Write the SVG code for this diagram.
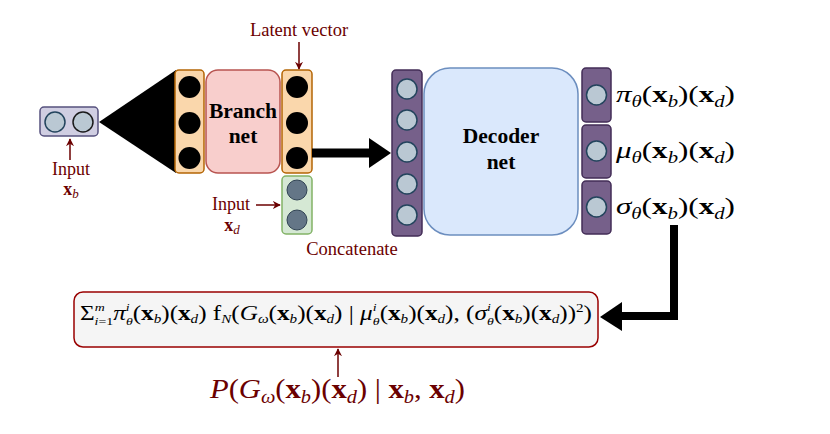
<svg xmlns="http://www.w3.org/2000/svg" width="830" height="434" viewBox="0 0 830 434">
<style>
.lbl{font-family:"Liberation Serif","Times New Roman",serif;fill:#6b0000}
.math{font-family:"Liberation Serif","Times New Roman",serif;fill:#000}
.it{font-style:italic}
.bf{font-weight:bold}
.bold{font-family:"Liberation Serif","Times New Roman",serif;font-weight:bold;fill:#000}
.orange{fill:#fad7ac;stroke:#b46504;stroke-width:1.5}
.blk{fill:#000}
.purple{fill:#76608a;stroke:#432d57;stroke-width:1.5}
.pc{fill:#bac8d3;stroke:#23445d;stroke-width:1.5}
.gc{fill:#647687;stroke:#314354;stroke-width:1}
.red{stroke:#6b0000;stroke-width:1.5;fill:none}
</style>
<defs>
<marker id="ah" viewBox="0 0 10 10" refX="9" refY="5" markerWidth="8" markerHeight="8" orient="auto" markerUnits="userSpaceOnUse">
<path d="M0,0 L10,5 L0,10 L3,5 Z" fill="#6b0000"/>
</marker>
</defs>
<rect width="830" height="434" fill="#fff"/>

<g id="input-xb">
<rect x="40" y="107" width="58" height="29" rx="4" fill="#d0cee2" stroke="#56517e" stroke-width="1.5"/>
<circle cx="55" cy="122" r="10" class="pc"/>
<circle cx="83" cy="122" r="10" fill="#bac8d3" stroke="#1a1a1a" stroke-width="1.5"/>
</g>
<g id="cone">
<polygon points="99,122 176,70 176,173" fill="#000"/>
</g>
<g id="branch-in">
<rect x="175" y="70" width="29" height="103" rx="4" class="orange"/>
<circle cx="189.5" cy="87" r="11" class="blk"/>
<circle cx="189.5" cy="123" r="11" class="blk"/>
<circle cx="189.5" cy="158" r="11" class="blk"/>
</g>
<g id="branch-net">
<rect x="206" y="70" width="74" height="103" rx="12" fill="#f8cecc" stroke="#b85450" stroke-width="1.5"/>
<text x="243" y="118" class="bold" font-size="21.5" text-anchor="middle">Branch</text>
<text x="243" y="143" class="bold" font-size="21.5" text-anchor="middle">net</text>
</g>
<g id="latent">
<rect x="282" y="70" width="30" height="103" rx="4" class="orange"/>
<circle cx="297" cy="87" r="11" class="blk"/>
<circle cx="297" cy="123" r="11" class="blk"/>
<circle cx="297" cy="158" r="11" class="blk"/>
</g>
<g id="input-xd">
<rect x="282" y="176" width="30" height="58" rx="4" fill="#d5e8d4" stroke="#82b366" stroke-width="1.5"/>
<circle cx="297" cy="190" r="10" class="gc"/>
<circle cx="297" cy="220" r="10" class="gc"/>
</g>
<g id="decoder-in">
<rect x="392" y="70" width="30" height="166" rx="4" class="purple"/>
<circle cx="407" cy="89" r="10" class="pc"/>
<circle cx="407" cy="120" r="10" class="pc"/>
<circle cx="407" cy="152" r="10" class="pc"/>
<circle cx="407" cy="184" r="10" class="pc"/>
<circle cx="407" cy="215" r="10" class="pc"/>
</g>
<g id="decoder-net">
<rect x="424" y="68" width="154" height="167" rx="26" fill="#dae8fc" stroke="#6c8ebf" stroke-width="1.5"/>
<text x="501" y="143" class="bold" font-size="21.5" text-anchor="middle">Decoder</text>
<text x="501" y="169" class="bold" font-size="21.5" text-anchor="middle">net</text>
</g>
<g id="out-pi">
<rect x="582" y="68" width="29" height="54" rx="4" class="purple"/>
<circle cx="596.5" cy="95" r="10" class="pc"/>
</g>
<g id="out-mu">
<rect x="582" y="125" width="29" height="53" rx="4" class="purple"/>
<circle cx="596.5" cy="151" r="10" class="pc"/>
</g>
<g id="out-sigma">
<rect x="582" y="181" width="29" height="53" rx="4" class="purple"/>
<circle cx="596.5" cy="207" r="10" class="pc"/>
</g>

<g id="output-labels" class="math" font-size="24">
<text x="616" y="102" textLength="119" lengthAdjust="spacingAndGlyphs"><tspan class="it">π</tspan><tspan class="it" font-size="16" dy="5">θ</tspan><tspan dy="-5">(</tspan><tspan class="bf">x</tspan><tspan class="it" font-size="16" dy="5">b</tspan><tspan dy="-5">)(</tspan><tspan class="bf">x</tspan><tspan class="it" font-size="16" dy="5">d</tspan><tspan dy="-5">)</tspan></text>
<text x="616" y="158" textLength="119" lengthAdjust="spacingAndGlyphs"><tspan class="it">μ</tspan><tspan class="it" font-size="16" dy="5">θ</tspan><tspan dy="-5">(</tspan><tspan class="bf">x</tspan><tspan class="it" font-size="16" dy="5">b</tspan><tspan dy="-5">)(</tspan><tspan class="bf">x</tspan><tspan class="it" font-size="16" dy="5">d</tspan><tspan dy="-5">)</tspan></text>
<text x="616" y="214" textLength="119" lengthAdjust="spacingAndGlyphs"><tspan class="it">σ</tspan><tspan class="it" font-size="16" dy="5">θ</tspan><tspan dy="-5">(</tspan><tspan class="bf">x</tspan><tspan class="it" font-size="16" dy="5">b</tspan><tspan dy="-5">)(</tspan><tspan class="bf">x</tspan><tspan class="it" font-size="16" dy="5">d</tspan><tspan dy="-5">)</tspan></text>
</g>

<g id="mixture">
<rect x="74" y="292" width="524" height="55" rx="9" fill="#f5f5f5" stroke="#990000" stroke-width="1.5"/>
<text x="80" y="320" class="math" font-size="20" textLength="512" lengthAdjust="spacingAndGlyphs">Σ<tspan class="it" font-size="11" dy="-9">m</tspan><tspan class="it" font-size="11" dx="-8" dy="14">i</tspan><tspan font-size="11">=1</tspan><tspan class="it" dy="-5">π</tspan><tspan class="it" font-size="11" dy="-9">i</tspan><tspan class="it" font-size="11" dx="-3" dy="14">θ</tspan><tspan dy="-5">(</tspan><tspan class="bf">x</tspan><tspan class="it" font-size="12" dy="3">b</tspan><tspan dy="-3">)(</tspan><tspan class="bf">x</tspan><tspan class="it" font-size="12" dy="3">d</tspan><tspan dy="-3">) f</tspan><tspan class="it" font-size="12" dy="3">N</tspan><tspan dy="-3">(</tspan><tspan class="it">G</tspan><tspan class="it" font-size="12" dy="3">ω</tspan><tspan dy="-3">(</tspan><tspan class="bf">x</tspan><tspan class="it" font-size="12" dy="3">b</tspan><tspan dy="-3">)(</tspan><tspan class="bf">x</tspan><tspan class="it" font-size="12" dy="3">d</tspan><tspan dy="-3">) | </tspan><tspan class="it">μ</tspan><tspan class="it" font-size="11" dy="-9">i</tspan><tspan class="it" font-size="11" dx="-3" dy="14">θ</tspan><tspan dy="-5">(</tspan><tspan class="bf">x</tspan><tspan class="it" font-size="12" dy="3">b</tspan><tspan dy="-3">)(</tspan><tspan class="bf">x</tspan><tspan class="it" font-size="12" dy="3">d</tspan><tspan dy="-3">), (</tspan><tspan class="it">σ</tspan><tspan class="it" font-size="11" dy="-9">i</tspan><tspan class="it" font-size="11" dx="-3" dy="14">θ</tspan><tspan dy="-5">(</tspan><tspan class="bf">x</tspan><tspan class="it" font-size="12" dy="3">b</tspan><tspan dy="-3">)(</tspan><tspan class="bf">x</tspan><tspan class="it" font-size="12" dy="3">d</tspan><tspan dy="-3">))</tspan><tspan font-size="12" dy="-8">2</tspan><tspan dy="8">)</tspan></text>
</g>

<g id="labels">
<text x="299" y="36" class="lbl" font-size="18.5" text-anchor="middle">Latent vector</text>
<text x="71" y="175" class="lbl" font-size="18" text-anchor="middle">Input</text>
<text x="71" y="195" class="lbl" font-size="18" text-anchor="middle"><tspan class="bf">x</tspan><tspan class="it" font-size="13" dy="3">b</tspan></text>
<text x="231" y="210" class="lbl" font-size="18" text-anchor="middle">Input</text>
<text x="232" y="231" class="lbl" font-size="18" text-anchor="middle"><tspan class="bf">x</tspan><tspan class="it" font-size="13" dy="3">d</tspan></text>
<text x="352" y="255" class="lbl" font-size="18.5" text-anchor="middle">Concatenate</text>
<text x="210" y="398" class="lbl" font-size="27" textLength="255" lengthAdjust="spacingAndGlyphs"><tspan class="it">P</tspan>(<tspan class="it">G</tspan><tspan class="it" font-size="18" dy="5">ω</tspan><tspan dy="-5">(</tspan><tspan class="bf">x</tspan><tspan class="it" font-size="18" dy="5">b</tspan><tspan dy="-5">)(</tspan><tspan class="bf">x</tspan><tspan class="it" font-size="18" dy="5">d</tspan><tspan dy="-5">) | </tspan><tspan class="bf">x</tspan><tspan class="it" font-size="18" dy="5">b</tspan><tspan dy="-5">, </tspan><tspan class="bf">x</tspan><tspan class="it" font-size="18" dy="5">d</tspan><tspan dy="-5">)</tspan></text>
</g>

<g id="connectors">
<line x1="70" y1="160" x2="70" y2="139" class="red" marker-end="url(#ah)"/>
<line x1="299" y1="42" x2="299" y2="69" class="red" marker-end="url(#ah)"/>
<line x1="256" y1="205" x2="280" y2="205" class="red" marker-end="url(#ah)"/>
<line x1="338" y1="377" x2="338" y2="349" class="red" marker-end="url(#ah)"/>
<line x1="312" y1="153" x2="372" y2="153" stroke="#000" stroke-width="9"/>
<polygon points="369,138 391,153 369,168" fill="#000"/>
<path d="M674,225 V316 H618" fill="none" stroke="#000" stroke-width="8"/>
<polygon points="622,302 600,317 622,331" fill="#000"/>
</g>
</svg>
